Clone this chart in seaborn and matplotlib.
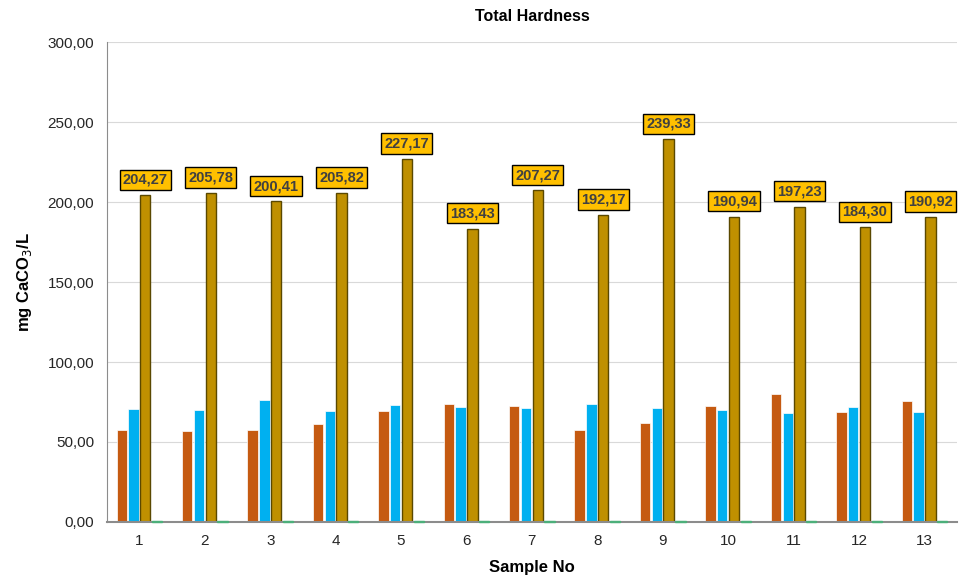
import pandas as pd
import matplotlib.pyplot as plt
import seaborn as sns
from matplotlib.ticker import FuncFormatter, MultipleLocator

samples = [str(i) for i in range(1, 14)]
series_a = [57.5, 56.7, 57.5, 61.2, 69.4, 73.7, 72.5, 57.5, 61.9, 72.3, 79.8, 69.0, 75.6]
series_b = [70.4, 69.8, 76.2, 69.4, 73.0, 71.9, 71.2, 73.7, 71.2, 70.2, 67.9, 71.7, 68.5]
total_hardness = [204.27, 205.78, 200.41, 205.82, 227.17, 183.43, 207.27, 192.17,
                  239.33, 190.94, 197.23, 184.30, 190.92]
series_d = [0.8] * 13
series_names = ["A", "B", "Total", "D"]
colors = ["#C55A11", "#00B0F0", "#BF9000", "#4CAF7A"]


def comma(v, pos=None):
    return f"{v:,.2f}".replace(",", " ").replace(".", ",")


def main():
    plt.rcParams["font.family"] = ["Liberation Sans", "DejaVu Sans"]
    rows = []
    for name, vals in zip(series_names, [series_a, series_b, total_hardness, series_d]):
        for s, v in zip(samples, vals):
            rows.append({"sample": s, "series": name, "value": v})
    df = pd.DataFrame(rows)

    fig, ax = plt.subplots(figsize=(9.61, 5.78), dpi=100)
    sns.barplot(data=df, x="sample", y="value", hue="series", palette=colors,
                saturation=1, width=0.72, gap=0.12, errorbar=None, legend=False, ax=ax)

    for i, cont in enumerate(ax.containers):
        for bar in cont:
            if i == 2:
                bar.set_edgecolor("#5a4800")
                bar.set_linewidth(1.0)
            elif i == 3:
                bar.set_edgecolor(colors[3])
                bar.set_linewidth(1.0)
                bar.set_zorder(5)
                bar.set_clip_on(False)
            else:
                bar.set_edgecolor("#ffffff")
                bar.set_linewidth(0.5)

    ax.bar_label(ax.containers[2], labels=[comma(v) for v in total_hardness],
                 padding=6, fontsize=10.5, fontweight="bold", color="#404040",
                 bbox=dict(boxstyle="square,pad=0.22", fc="#FFC000", ec="black", lw=1.0))

    ax.set_ylim(0, 300)
    ax.yaxis.set_major_locator(MultipleLocator(50))
    ax.yaxis.set_major_formatter(FuncFormatter(comma))
    ax.grid(axis="y", color="#D9D9D9", linewidth=0.8)
    ax.set_axisbelow(True)
    for side in ["top", "right"]:
        ax.spines[side].set_visible(False)
    ax.spines["left"].set_color("#8c8c8c")
    ax.spines["bottom"].set_color("#8c8c8c")
    ax.spines["bottom"].set_linewidth(1.5)
    ax.tick_params(axis="both", length=0, labelsize=11, colors="#262626", pad=9)

    ax.set_title("Total Hardness", fontsize=11.5, fontweight="bold", pad=15)
    ax.set_xlabel("Sample No", fontsize=12, fontweight="bold", labelpad=8)
    ax.set_ylabel("mg CaCO$_3$/L", fontsize=12, fontweight="bold", labelpad=10)

    fig.subplots_adjust(left=0.111, right=0.996, top=0.927, bottom=0.097)
    fig.savefig("out.png", dpi=100)


if __name__ == "__main__":
    main()
